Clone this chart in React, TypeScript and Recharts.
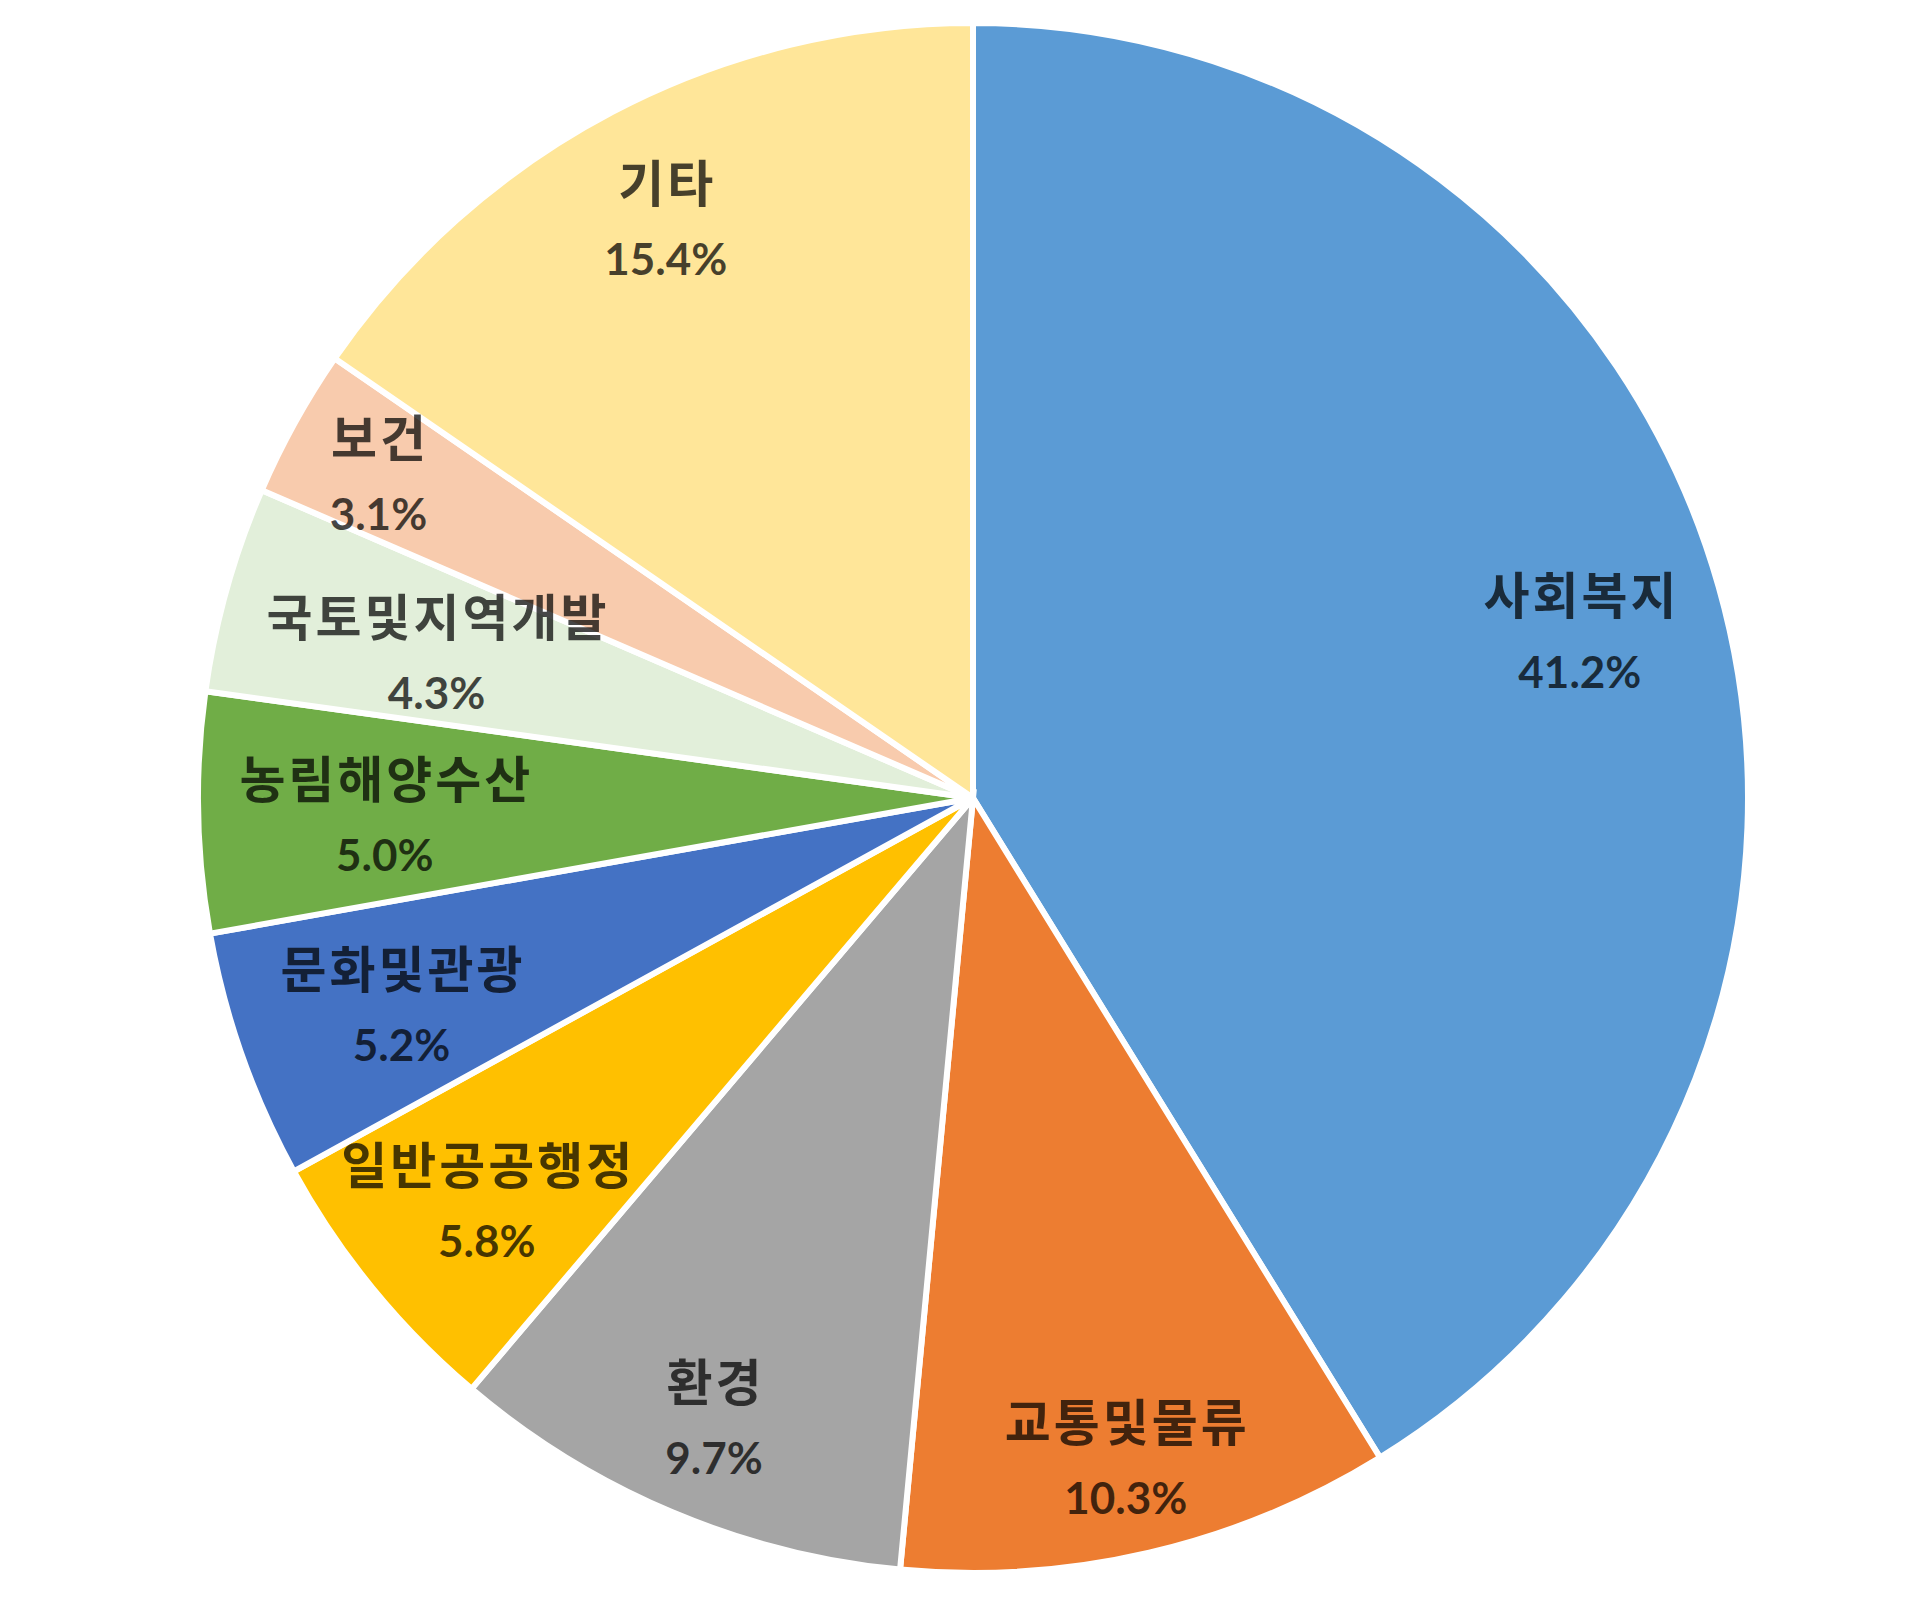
import React from "react";
import { PieChart, Pie, Cell } from "recharts";

const categories = ["사회복지", "교통및물류", "환경", "일반공공행정", "문화및관광", "농림해양수산", "국토및지역개발", "보건", "기타"];
const shares = [41.2, 10.3, 9.7, 5.8, 5.2, 5.0, 4.3, 3.1, 15.4];
const colors = ["#5B9BD5", "#ED7D31", "#A5A5A5", "#FFC000", "#4472C4", "#70AD47", "#E2EFDA", "#F8CBAD", "#FFE699"];
// radial placement of each data label, as a fraction of the outer radius
const labelRadius = [0.814, 0.867, 0.86, 0.81, 0.782, 0.759, 0.719, 0.877, 0.852];

const data = categories.map((name, i) => ({ name, value: shares[i] }));

const RAD = Math.PI / 180;
const NAME_SIZE = 50;
const PCT_SIZE = 44;
const LETTER = 3;

const renderLabel = (props: any) => {
  const { cx, cy, midAngle, outerRadius, index, name, value } = props;
  const r = outerRadius * labelRadius[index];
  const x = cx + r * Math.cos(-midAngle * RAD);
  const y = cy + r * Math.sin(-midAngle * RAD) + 10;
  const nameCenter = y - 40;
  const pctCenter = y + 36;
  return (
    <g>
      <text
        x={x + LETTER / 2}
        y={nameCenter + NAME_SIZE * 0.37}
        textAnchor="middle"
        fill="#000"
        fillOpacity={0.72}
        style={{ fontFamily: "'Noto Sans CJK KR', sans-serif", fontWeight: 700, fontSize: NAME_SIZE, letterSpacing: LETTER }}
      >
        {name}
      </text>
      <text
        x={x}
        y={pctCenter + PCT_SIZE * 0.358}
        textAnchor="middle"
        fill="#000"
        fillOpacity={0.72}
        style={{ fontFamily: "Lato, sans-serif", fontWeight: 700, fontSize: PCT_SIZE }}
      >
        {value.toFixed(1)}%
      </text>
    </g>
  );
};

export default function App() {
  return (
    <div style={{ width: 1904, height: 1585, background: "#fff" }}>
      <PieChart width={1904} height={1585}>
        <Pie
          data={data}
          dataKey="value"
          nameKey="name"
          cx={960}
          cy={785}
          outerRadius={775}
          startAngle={90}
          endAngle={-270}
          stroke="#FFFFFF"
          strokeWidth={6}
          label={renderLabel}
          labelLine={false}
          isAnimationActive={false}
        >
          {data.map((d, i) => (
            <Cell key={d.name} fill={colors[i]} />
          ))}
        </Pie>
      </PieChart>
    </div>
  );
}
